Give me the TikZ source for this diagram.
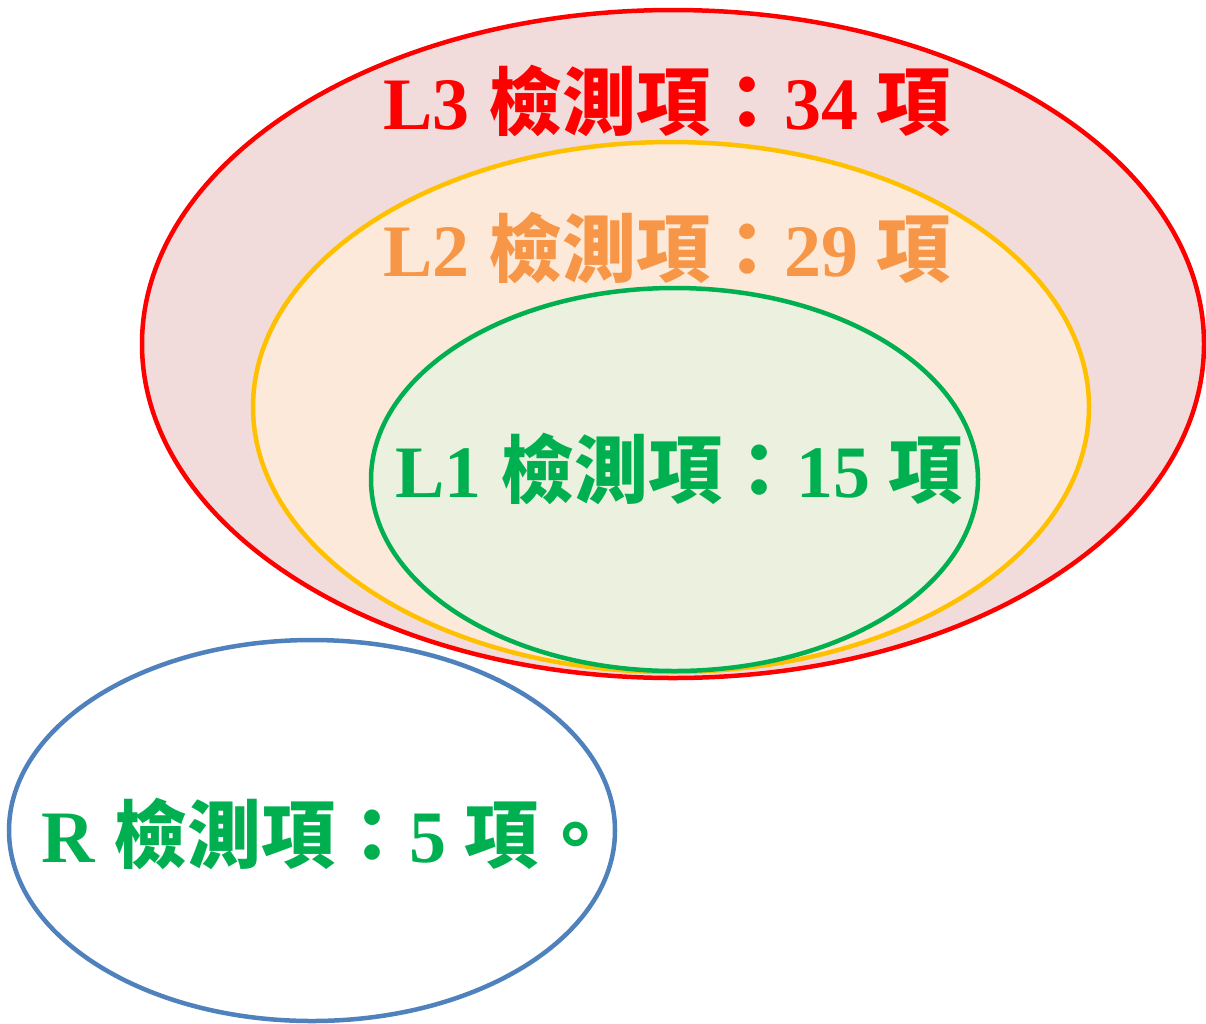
\documentclass[tikz,border=0pt]{standalone}
\usepackage{fontspec}
\setmainfont{Liberation Serif}
\newfontfamily\cjk{Noto Sans CJK TC}
\usetikzlibrary{shapes.geometric}
\definecolor{cRed}{HTML}{FF0000}
\definecolor{cOrangeTxt}{HTML}{F79646}
\definecolor{cGreen}{HTML}{00B050}
\definecolor{cYellow}{HTML}{FFC000}
\definecolor{cBlue}{HTML}{4F81BD}
\definecolor{fRed}{HTML}{F2DCDB}
\definecolor{fOrange}{HTML}{FDE9D9}
\definecolor{fGreen}{HTML}{EBF1DE}
\tikzset{
  ring/.style={ellipse, inner sep=0pt, outer sep=0pt, line width=4.5pt},
  lbl/.style={anchor=base west, inner sep=0pt, font=\fontsize{74}{80}\selectfont\bfseries},
}
\begin{document}
\begin{tikzpicture}[x=1pt,y=-1pt]
\useasboundingbox (0,0) rectangle (1206,1023);
\node[ring, draw=cRed, fill=fRed, minimum width=1062pt, minimum height=668pt] (l3) at (673,344) {};
\node[ring, draw=cYellow, fill=fOrange, minimum width=836pt, minimum height=530pt] (l2) at (671,407) {};
\node[ring, draw=cGreen, fill=fGreen, minimum width=607pt, minimum height=383pt] (l1) at (674.5,479.5) {};
\node[ring, draw=cBlue, fill=white, minimum width=606pt, minimum height=381pt] (r) at (312,830.5) {};
\node[lbl, text=cRed] (t3) at (383,129) {L3 {\cjk 檢測項：}34 {\cjk 項}};
\node[lbl, text=cOrangeTxt] (t2) at (383,276) {L2 {\cjk 檢測項：}29 {\cjk 項}};
\node[lbl, text=cGreen] (t1) at (395,497) {L1 {\cjk 檢測項：}15 {\cjk 項}};
\node[lbl, text=cGreen] (tr) at (41,862) {R {\cjk 檢測項：}5 {\cjk 項。}};
\end{tikzpicture}
\end{document}
